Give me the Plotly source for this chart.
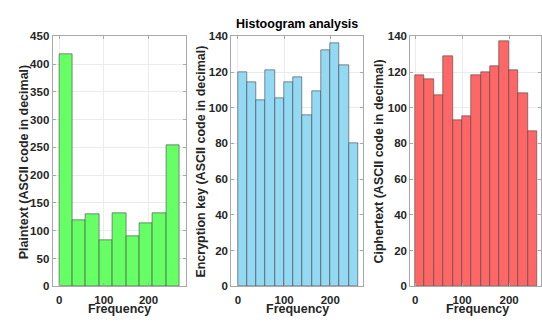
import plotly.graph_objects as go

# ---- data ----
plain_bin_start = 0
plain_bin_width = 30
plain_counts = [418, 118, 129, 83, 131, 90, 114, 131, 254]

key_bin_start = 0
key_bin_width = 20
key_counts = [120, 114, 104, 121, 105, 114, 117, 96, 109, 132, 136, 124, 80]

cipher_bin_start = 0
cipher_bin_width = 20
cipher_counts = [118, 116, 107, 129, 93, 95, 118, 120, 123, 137, 121, 108, 87]

x_tick_vals = [0, 100, 200]
plain_y_ticks = list(range(0, 451, 50))
small_y_ticks = list(range(0, 141, 20))

y_titles = ["Plaintext (ASCII code in decimal)",
            "Encryption key (ASCII code in decimal)",
            "Ciphertext (ASCII code in decimal)"]
x_title = "Frequency"
main_title = "Histoogram analysis"

W, H = 542, 325
FONT = "Liberation Sans, Arial, sans-serif"


def centers(start, width, n):
    return [start + width * (i + 0.5) for i in range(n)]


fig = go.Figure()
panels = [
    (plain_bin_start, plain_bin_width, plain_counts, "#66FF66", "x", "y"),
    (key_bin_start, key_bin_width, key_counts, "#94D9F4", "x2", "y2"),
    (cipher_bin_start, cipher_bin_width, cipher_counts, "#FF6666", "x3", "y3"),
]
for start, width, counts, color, xa, ya in panels:
    fig.add_trace(go.Bar(
        x=centers(start, width, len(counts)), y=counts,
        width=[width] * len(counts),
        marker=dict(color=color, line=dict(color="rgba(70,70,70,0.6)", width=1)),
        xaxis=xa, yaxis=ya, showlegend=False,
    ))

ydom = [(H - 291) / H, (H - 31.5) / H]
xdoms = [(52.7 / W, 186 / W), (231.7 / W, 364 / W), (411 / W, 1.0)]
xranges = [(-14.8, 283), (-14.3, 271.5), (-10.6, 268)]
yranges = [(0, 450), (0, 140), (0, 140)]
yticks = [plain_y_ticks, small_y_ticks, small_y_ticks]
ytitle_px = [24, 201.7, 380]

axis_common = dict(
    showline=True, linecolor="#a8a8a8", linewidth=1, mirror="ticks",
    ticks="inside", ticklen=3, tickcolor="#a8a8a8",
    showgrid=True, gridcolor="#ececec", gridwidth=1, zeroline=False,
    tickfont=dict(family=FONT, size=11.5, color="#262626", weight="bold"),
)

layout = dict(
    width=W, height=H, margin=dict(l=0, r=0, t=0, b=0),
    paper_bgcolor="white", plot_bgcolor="white",
    bargap=0, font=dict(family=FONT),
)
for i in range(3):
    sx = "" if i == 0 else str(i + 1)
    layout["xaxis" + sx] = dict(
        axis_common, domain=list(xdoms[i]), range=list(xranges[i]),
        tickmode="array", tickvals=x_tick_vals, anchor="y" + sx,
        ticklabelstandoff=3,
    )
    layout["yaxis" + sx] = dict(
        axis_common, domain=ydom, range=list(yranges[i]),
        tickmode="array", tickvals=yticks[i], anchor="x" + sx,
    )

fig.update_layout(**layout)

title_font = dict(family=FONT, size=12.5, color="#262626")
ymid = (H - (291 + 31.5) / 2) / H
for i in range(3):
    fig.add_annotation(
        text="<b>" + y_titles[i] + "</b>", xref="paper", yref="paper",
        x=ytitle_px[i] / W, y=ymid, textangle=-90, showarrow=False,
        xanchor="center", yanchor="middle", font=title_font,
    )
    fig.add_annotation(
        text="<b>" + x_title + "</b>", xref="paper", yref="paper",
        x=(xdoms[i][0] + (xdoms[i][1] if i < 2 else 546 / W)) / 2, y=0,
        showarrow=False, xanchor="center", yanchor="bottom", yshift=1,
        font=title_font,
    )
fig.add_annotation(
    text="<b>" + main_title + "</b>", xref="paper", yref="paper",
    x=297.7 / W, y=(H - 19) / H, showarrow=False, xanchor="center", yanchor="middle",
    font=dict(family=FONT, size=12.5, color="black"),
)
fig.write_html("out.html")
